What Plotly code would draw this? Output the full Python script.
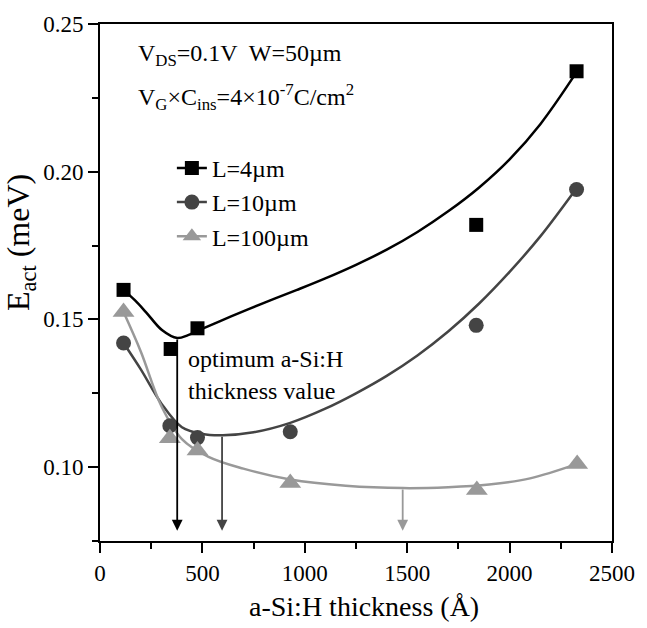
import plotly.graph_objects as go

# ---- measured data points ----
x_L4 = [115, 345, 476, 1837, 2327]
y_L4 = [0.160, 0.140, 0.147, 0.182, 0.234]

x_L10 = [115, 341, 476, 929, 1837, 2327]
y_L10 = [0.142, 0.114, 0.110, 0.112, 0.148, 0.194]

x_L100 = [115, 341, 476, 929, 1840, 2330]
y_L100 = [0.1525, 0.1098, 0.1056, 0.0946, 0.0923, 0.1011]

# ---- fitted curves ----
fit_x_L4 = [115, 170, 224, 304, 377, 430, 481, 640, 801, 962, 1100, 1250, 1400, 1550, 1700, 1850, 2000, 2150, 2327]
fit_y_L4 = [0.160, 0.1565, 0.1525, 0.1463, 0.1437, 0.1447, 0.1463, 0.1510, 0.1556, 0.1600, 0.1639, 0.1685,
            0.1736, 0.1796, 0.1866, 0.1946, 0.2042, 0.2161, 0.2337]

fit_x_L10 = [115, 200, 300, 400, 500, 600, 750, 929, 1100, 1250, 1400, 1550, 1700, 1850, 2000, 2150, 2327]
fit_y_L10 = [0.142, 0.133, 0.1215, 0.1135, 0.1112, 0.1108, 0.1118, 0.1150, 0.1198, 0.1250, 0.1309, 0.1378,
             0.1459, 0.1553, 0.1661, 0.1781, 0.1944]

fit_x_L100 = [115, 200, 300, 400, 530, 700, 929, 1200, 1480, 1700, 1900, 2100, 2327]
fit_y_L100 = [0.1525, 0.139, 0.1206, 0.1095, 0.1035, 0.0995, 0.0958, 0.0937, 0.0929, 0.0932, 0.0941, 0.0962,
              0.1010]

# optimum thickness arrows
opt_x = [377, 596, 1478]
opt_top = [0.1437, 0.1108, 0.0929]
arrow_tip = 0.0785

names = ["L=4µm", "L=10µm", "L=100µm"]
colors = ["#000000", "#444444", "#999999"]
symbols = ["square", "circle", "triangle-up"]
msizes = [14, 15, 19]

FONT = "Liberation Serif"

fig = go.Figure()

fits = [(fit_x_L4, fit_y_L4), (fit_x_L10, fit_y_L10), (fit_x_L100, fit_y_L100)]
pts = [(x_L4, y_L4), (x_L10, y_L10), (x_L100, y_L100)]

for (fx, fy), c in zip(fits, colors):
    fig.add_trace(go.Scatter(x=fx, y=fy, mode="lines", line=dict(color=c, width=2.5, shape="spline", smoothing=1),
                             showlegend=False, hoverinfo="skip"))

for (px, py), c, s, ms in zip(pts, colors, symbols, msizes):
    fig.add_trace(go.Scatter(x=px, y=py, mode="markers", marker=dict(color=c, symbol=s, size=ms),
                             showlegend=False))

for n, c, s, ms in zip(names, colors, symbols, msizes):
    fig.add_trace(go.Scatter(x=[None], y=[None], mode="lines+markers", name=n,
                             line=dict(color=c, width=2.5), marker=dict(color=c, symbol=s, size=ms)))

annotations = []
for ox, ot, c in zip(opt_x, opt_top, colors):
    annotations.append(dict(x=ox, y=arrow_tip, ax=ox, ay=ot, xref="x", yref="y", axref="x", ayref="y",
                            text="", showarrow=True, arrowhead=2, arrowsize=1.2, arrowwidth=1.8,
                            arrowcolor=c, standoff=0, startstandoff=0))

annotations += [
    dict(x=418, y=0.1367, xref="x", yref="y", text="optimum a-Si:H", showarrow=False,
         xanchor="left", yanchor="middle", font=dict(family=FONT, size=24, color="black")),
    dict(x=418, y=0.1259, xref="x", yref="y", text="thickness value", showarrow=False,
         xanchor="left", yanchor="middle", font=dict(family=FONT, size=24, color="black")),
    dict(x=(137 - 100) / 520, y=(541 - 52) / 520, xref="paper", yref="paper",
         text="V<sub>DS</sub>=0.1V  W=50µm", showarrow=False, xanchor="left", yanchor="middle",
         font=dict(family=FONT, size=24, color="black")),
    dict(x=(137 - 100) / 520, y=(541 - 94) / 520, xref="paper", yref="paper",
         text="V<sub>G</sub>×C<sub>ins</sub>=4×10<sup>-7</sup>C/cm<sup>2</sup>", showarrow=False,
         xanchor="left", yanchor="middle", font=dict(family=FONT, size=24, color="black")),
    dict(x=(20 - 100) / 520, y=(541 - 241) / 520, xref="paper", yref="paper",
         text="E<sub>act</sub> (meV)", textangle=-90, showarrow=False, xanchor="center", yanchor="middle",
         font=dict(family=FONT, size=32, color="black")),
    dict(x=(368 - 100) / 520, y=(541 - 607) / 520, xref="paper", yref="paper",
         text="a-Si:H thickness (Å)", showarrow=False, xanchor="center", yanchor="middle",
         font=dict(family=FONT, size=28, color="black")),
]

fig.update_layout(
    width=647, height=628,
    margin=dict(l=100, r=27, t=21, b=87),
    paper_bgcolor="white", plot_bgcolor="white",
    font=dict(family=FONT, size=23, color="black"),
    showlegend=True,
    legend=dict(x=(173 - 100) / 520, y=(541 - 143.5) / 520, xanchor="left", yanchor="top",
                bgcolor="rgba(0,0,0,0)", font=dict(family=FONT, size=24), tracegroupgap=0),
    annotations=annotations,
)

fig.update_xaxes(range=[0, 2500], tickmode="linear", tick0=0, dtick=500, ticks="outside", ticklen=10,
                 tickwidth=2, tickcolor="black", showline=True, linewidth=2, linecolor="black", mirror=True,
                 showgrid=False, zeroline=False,
                 minor=dict(dtick=250, ticks="outside", ticklen=6, tickwidth=2, tickcolor="black"))
fig.update_yaxes(range=[0.075, 0.25], tickmode="linear", tick0=0.1, dtick=0.05, tickformat=".2f",
                 ticks="outside", ticklen=10, tickwidth=2, tickcolor="black", showline=True, linewidth=2,
                 linecolor="black", mirror=True, showgrid=False, zeroline=False,
                 minor=dict(dtick=0.025, tick0=0.075, ticks="outside", ticklen=6, tickwidth=2, tickcolor="black"))

fig.write_html("out.html")
